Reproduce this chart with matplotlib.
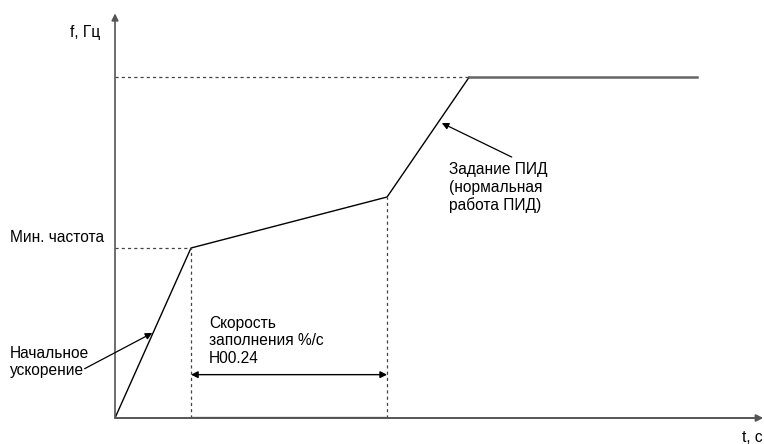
import matplotlib
matplotlib.use('Agg')
import matplotlib.pyplot as plt

plt.rcParams['font.family'] = ['Liberation Sans', 'DejaVu Sans']

# frequency profile (t in s, f in Hz, arbitrary scale)
t = [0, 1.0, 3.58, 4.66, 7.66]
f = [0, 20, 26, 40.1, 40.1]
f_min = 20
t_fill = [1.0, 3.58]

fig = plt.figure(figsize=(7.64, 4.44), dpi=100)
ax = fig.add_axes([115/764, 26/444, 649/764, 418/444])
ax.set_xlim(0, 649/76)
ax.set_ylim(0, 418/8.5)
ax.axis('off')

# axes with arrows
ax.annotate('', xy=(8.53, 0), xytext=(0, 0),
            arrowprops=dict(arrowstyle='-|>', color='#555555', lw=1.4, mutation_scale=10,
                            shrinkA=0, shrinkB=0), annotation_clip=False)
ax.annotate('', xy=(0, 47.6), xytext=(0, 0),
            arrowprops=dict(arrowstyle='-|>', color='#555555', lw=1.2, mutation_scale=10,
                            shrinkA=0, shrinkB=0), annotation_clip=False)
ax.plot(t_fill, [0, 0], color='#222222', lw=1.6, solid_capstyle='butt')

# curve
ax.plot(t[:4], f[:4], color='black', lw=1.0)
ax.plot(t[3:], f[3:], color='#666666', lw=1.8)

# dashed guides
dash = dict(color='#444444', lw=0.9, dashes=(2.5, 2.5))
ax.plot([0, t[3]], [f[3], f[3]], **dash)
ax.plot([0, t[1]], [f_min, f_min], **dash)
ax.plot([t[1], t[1]], [0, f[1]], **dash)
ax.plot([t[2], t[2]], [0, f[2]], **dash)

# double arrow for fill rate
ax.annotate('', xy=(t_fill[0], 5.1), xytext=(t_fill[1], 5.1),
            arrowprops=dict(arrowstyle='<|-|>', color='black', lw=1.0, mutation_scale=10,
                            shrinkA=0, shrinkB=0))

fs = 11.2
ax.text(-0.2, 45.4, 'f, Гц', fontsize=fs, ha='right', va='center')
ax.text(8.25, -2.35, 't, с', fontsize=fs, ha='left', va='center', clip_on=False)
ax.text(-1.38, 20.4, 'Мин. частота', fontsize=fs, ha='left', va='bottom')
ax.text(1.24, 9.1, 'Скорость\nзаполнения %/с\nН00.24', fontsize=fs, ha='left', va='center',
        linespacing=1.2)
ax.text(-1.38, 6.6, 'Начальное\nускорение', fontsize=fs, ha='left', va='center',
        linespacing=1.2)
ax.annotate('', xy=(0.49, 10.0), xytext=(-0.4, 5.8),
            arrowprops=dict(arrowstyle='-|>', color='black', lw=0.9, mutation_scale=10,
                            shrinkA=0, shrinkB=0))
ax.text(4.39, 27.1, 'Задание ПИД\n(нормальная\nработа ПИД)', fontsize=fs, ha='left', va='center',
        linespacing=1.2)
ax.annotate('', xy=(4.3, 34.7), xytext=(5.22, 30.7),
            arrowprops=dict(arrowstyle='-|>', color='black', lw=0.9, mutation_scale=10,
                            shrinkA=0, shrinkB=0))

fig.savefig('out.png', dpi=100)
